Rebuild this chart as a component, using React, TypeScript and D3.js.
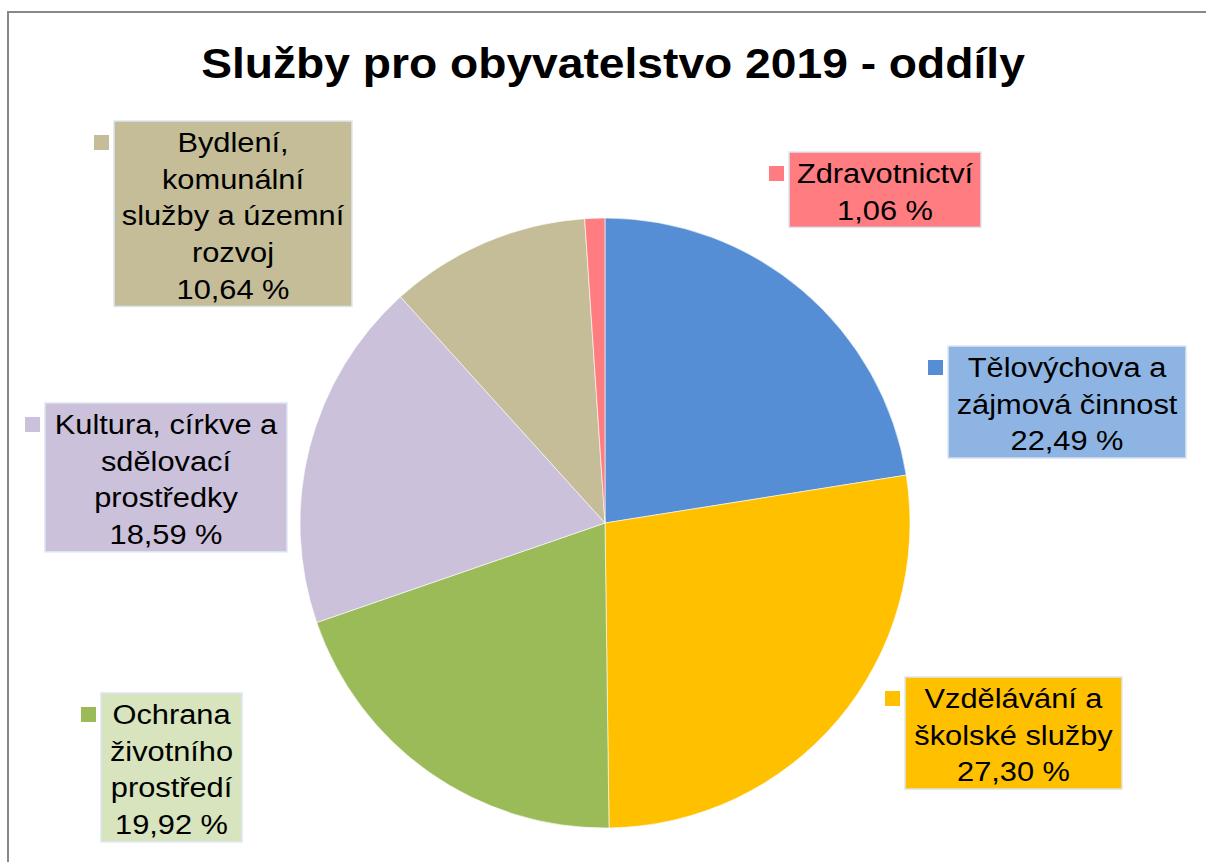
import React from 'react'
import * as d3 from 'd3'

// slices, clockwise from 12 o'clock
const categories = [
  ['Tělovýchova a', 'zájmová činnost'],
  ['Vzdělávání  a', 'školské služby'],
  ['Ochrana', 'životního', 'prostředí'],
  ['Kultura, církve a', 'sdělovací', 'prostředky'],
  ['Bydlení,', 'komunální', 'služby a územní', 'rozvoj'],
  ['Zdravotnictví'],
]
const shares = [22.49, 27.3, 19.92, 18.59, 10.64, 1.06]
const sliceColors = ['#558ed5', '#ffc000', '#9bbb59', '#ccc1da', '#c4bd97', '#ff7c80']
const boxColors = ['#8eb4e3', '#ffc000', '#d7e4bd', '#ccc1da', '#c4bd97', '#ff7c80']

// label boxes: left, top, width (height follows line count)
const boxes = [
  { x: 948, y: 346, w: 238 },
  { x: 905, y: 677, w: 217 },
  { x: 101, y: 693, w: 141 },
  { x: 45, y: 403, w: 242 },
  { x: 114, y: 121, w: 238 },
  { x: 789, y: 152, w: 192 },
]

const W = 1206
const H = 862
const cx = 605
const cy = 523
const R = 305
const LINE = 36.7
const FONT = 'Liberation Sans, Arial, sans-serif'

const fmt = (v: number) => v.toFixed(2).replace('.', ',') + ' %'

export default function App() {
  const pie = d3.pie<number>().sort(null).startAngle(0).endAngle(2 * Math.PI)
  const arcs = pie(shares)
  const arc = d3.arc<d3.PieArcDatum<number>>().innerRadius(0).outerRadius(R)

  return (
    <svg width={W} height={H} style={{ position: 'absolute', left: 0, top: 0, background: '#fff' }}>
      <rect x={8} y={12} width={1240} height={900} fill="#fff" stroke="#888" strokeWidth={2} />

      <text
        transform={`translate(${W / 2 + 10},78) scale(1.1,1)`}
        textAnchor="middle"
        fontFamily={FONT}
        fontWeight="bold"
        fontSize={42}
        fill="#000"
      >
        Služby pro obyvatelstvo 2019 - oddíly
      </text>

      <g transform={`translate(${cx},${cy})`}>
        {arcs.map((a, i) => (
          <path key={i} d={arc(a) || ''} fill={sliceColors[i]} stroke="#fff" strokeWidth={0.6} />
        ))}
      </g>

      {boxes.map((b, i) => {
        const lines = [...categories[i], fmt(shares[i])]
        const h = lines.length * LINE + 2
        return (
          <g key={i}>
            <rect x={b.x - 20} y={b.y + 14} width={15} height={15} fill={sliceColors[i]} />
            <rect x={b.x} y={b.y} width={b.w} height={h} fill={boxColors[i]} stroke="#dce6f2" strokeWidth={1.5} />
            {lines.map((t, j) => (
              <text
                key={j}
                transform={`translate(${b.x + b.w / 2},${b.y + 31 + j * LINE}) scale(1.1,1)`}
                textAnchor="middle"
                fontFamily={FONT}
                fontSize={28}
                fill="#000"
              >
                {t}
              </text>
            ))}
          </g>
        )
      })}
    </svg>
  )
}
